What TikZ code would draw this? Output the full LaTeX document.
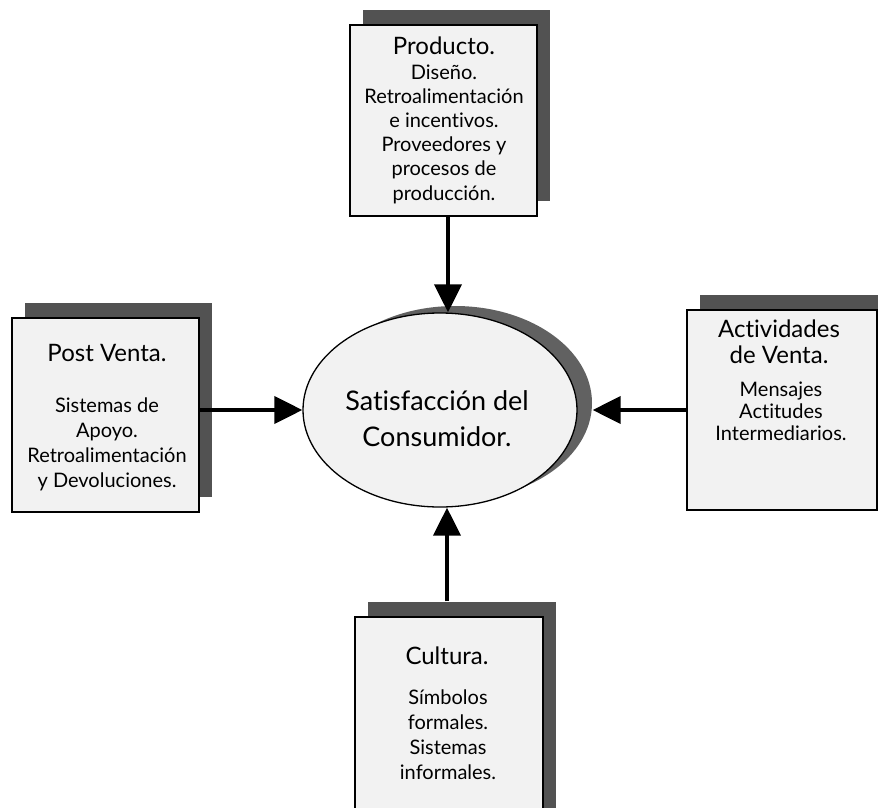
\documentclass[tikz,border=0pt]{standalone}
\usepackage{fontspec}
\setmainfont{Lato}[Ligatures=NoCommon]
\usetikzlibrary{arrows.meta,shadows,shapes.geometric}
\newcommand\ttlfont{\fontsize{24}{26}\selectfont}
\begin{document}
\begin{tikzpicture}[x=1pt,y=-1pt,
  box/.style={rectangle, draw=black, line width=1.3pt, fill=black!5, inner sep=0pt,
    drop shadow={shadow xshift=13pt, shadow yshift=15pt, fill=black!68, opacity=1}},
  ell/.style={ellipse, draw=black, line width=1.3pt, fill=black!5, inner sep=0pt,
    drop shadow={shadow xshift=15pt, shadow yshift=7pt, fill=black!62, opacity=1}},
  ttl/.style={inner sep=0pt, anchor=base, font=\ttlfont, align=center},
  body/.style={inner sep=0pt, anchor=base, align=center},
  arr/.style={line width=4pt, -{Triangle[length=28pt,width=27pt]}}]
\useasboundingbox (0,0) rectangle (878,808);
\clip (0,0) rectangle (878,808);
% boxes
\node[box, minimum width=187pt, minimum height=191pt] (prod) at (443.5,120.5) {};
\node[box, minimum width=187pt, minimum height=194pt] (post) at (105.5,415) {};
\node[box, minimum width=190pt, minimum height=200pt] (act) at (782,410) {};
\node[box, minimum width=188pt, minimum height=213pt] (cult) at (449,723.5) {};
\node[ell, minimum width=274pt, minimum height=194pt] (sat) at (440,410) {};
% texts (base anchor = baseline of the last line)
\node[ttl] (prodtitle) at (444,55) {Producto.};
\node[body, font=\fontsize{20}{24.2}\selectfont] (prodbody) at (444,200) {Diseño.\\Retroalimentación\\e incentivos.\\Proveedores y\\procesos de\\producción.};
\node[ttl] (posttitle) at (107,361) {Post Venta.};
\node[body, font=\fontsize{20}{25}\selectfont] (postbody) at (107,487) {Sistemas de\\Apoyo.\\Retroalimentación\\y Devoluciones.};
\node[ttl] (acttitle) at (779,363) {Actividades\\de Venta.};
\node[body, font=\fontsize{20}{22}\selectfont] (actbody) at (781,440) {Mensajes\\Actitudes\\Intermediarios.};
\node[ttl] (culttitle) at (447,664) {Cultura.};
\node[body, font=\fontsize{20}{25}\selectfont] (cultbody) at (448,779) {Símbolos\\formales.\\Sistemas\\informales.};
\node[inner sep=0pt, anchor=base, align=center, font=\fontsize{27}{36}\selectfont] (sattext) at (437,446) {Satisfacción del\\Consumidor.};
% arrows
\draw[arr] ([xshift=4.5pt]prod.south) -- ([xshift=8pt]sat.north);
\draw[arr] (post.east |- sat.west) -- (sat.west);
\draw[arr] (act.west |- sat.east) -- ([xshift=15pt]sat.east);
\draw[arr] ([shift={(-2,-15)}]cult.north) -- ([xshift=7pt]sat.south);
\end{tikzpicture}
\end{document}
